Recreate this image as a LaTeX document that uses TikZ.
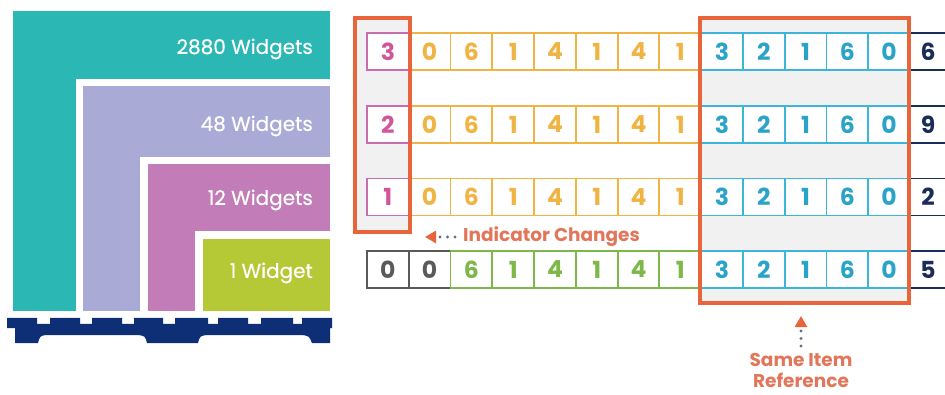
\documentclass[tikz,border=0pt]{standalone}
\usepackage{fontspec}
\setmainfont{Poppins}
\newfontfamily\medfont{Poppins}[FakeBold=0.5]
\usetikzlibrary{arrows.meta}
\definecolor{tealA}{HTML}{2BB7B3}
\definecolor{lavA}{HTML}{A9AAD6}
\definecolor{mauveA}{HTML}{C27DB8}
\definecolor{limeA}{HTML}{B5C836}
\definecolor{navyA}{HTML}{0E2F75}
\definecolor{orA}{HTML}{E8653B}
\definecolor{orT}{HTML}{E2765A}
\definecolor{pinkB}{HTML}{C76DB0}
\definecolor{pinkD}{HTML}{D2559A}
\definecolor{goldA}{HTML}{F0B444}
\definecolor{cyanB}{HTML}{3BB6D9}
\definecolor{cyanD}{HTML}{2AA3C9}
\definecolor{greenA}{HTML}{7DB848}
\definecolor{grayA}{HTML}{5A5A5A}
\definecolor{bgA}{HTML}{F1F1F1}
\definecolor{navyD}{HTML}{1A2C57}
\definecolor{dotG}{HTML}{6A6E80}
\begin{document}
\begin{tikzpicture}[x=1pt,y=-1pt,
  cell/.style={draw, line width=1.8pt, fill=white, inner sep=0pt, outer sep=0pt,
    minimum width=41.77pt, minimum height=37pt,
    font=\bfseries\fontsize{23.5}{23.5}\selectfont},
  lastd/.style={inner sep=0pt, font=\bfseries\fontsize{23.5}{23.5}\selectfont, text=navyD},
  navyline/.style={draw=navyD, line width=1.8pt},
  wlabel/.style={anchor=east, inner sep=0pt, text=white, font=\medfont\fontsize{20}{20}\selectfont},
  olabel/.style={inner sep=0pt, text=orT, font=\bfseries\fontsize{18.5}{21}\selectfont},
  obox/.style={draw=orA, line width=3.5pt},
  dotarrow/.style={draw=dotG, line width=3.2pt, dash pattern=on 0pt off 7.5pt, line cap=round,
    shorten >=3pt, -{Triangle[length=11pt,width=12pt,sharp,color=orA]}}
]
\useasboundingbox (0,0) rectangle (945,395);
% ---------- left: nested widget blocks ----------
\fill[tealA] (13,11) rectangle (330,311);
\fill[white] (76,79) rectangle (330,311);
\fill[lavA] (83,86) rectangle (330,311);
\fill[white] (140,157) rectangle (330,311);
\fill[mauveA] (148,164) rectangle (330,311);
\fill[white] (195,231) rectangle (330,311);
\fill[limeA] (203,239) rectangle (330,311);
\node[wlabel] (w2880) at (313,49) {2880 Widgets};
\node[wlabel] (w48) at (313,126) {48 Widgets};
\node[wlabel] (w12) at (313,200) {12 Widgets};
\node[wlabel] (w1) at (313,273) {1 Widget};
% pallet
\fill[navyA] (7,318) -- (37,318) -- (37,324) -- (50,324) -- (50,318) -- (80,318) -- (80,324) -- (92,324) -- (92,318)
  -- (122,318) -- (122,324) -- (134,324) -- (134,318) -- (163,318) -- (163,324) -- (175,324) -- (175,318)
  -- (208,318) -- (208,324) -- (218,324) -- (218,318) -- (248,318) -- (248,324) -- (261,324) -- (261,318)
  -- (293,318) -- (293,324) -- (302,324) -- (302,318) -- (332,318) -- (332,328) -- (330,328) -- (330,343)
  -- (312,343) .. controls (309,336) .. (302,335) -- (207,335) .. controls (200,336) .. (198,343)
  -- (147,343) .. controls (145,336) .. (138,335) -- (46,335) .. controls (40,336) .. (38,343)
  -- (15,343) -- (15,328) -- (7,328) -- cycle;
% ---------- right: code rows ----------
\fill[bgA] (355,18) rectangle (410,232);
\fill[bgA] (700,18) rectangle (909,303);
\coordinate (redge) at (945,0);
\foreach \r/\y/\a/\z in {1/51.5/3/6, 2/124.5/2/9, 3/197/1/2} {
  \node[cell, draw=pinkB, text=pinkD] (r\r c0) at ({367+0.5*41.77},\y) {\a};
  \foreach \d [count=\i] in {0,6,1,4,1,4,1}
    \node[cell, draw=goldA, text=goldA] (r\r c\i) at ({367+(\i+0.5)*41.77},\y) {\d};
  \foreach \d [count=\i from 8] in {3,2,1,6,0}
    \node[cell, draw=cyanB, text=cyanD] (r\r c\i) at ({367+(\i+0.5)*41.77},\y) {\d};
  \node[lastd] (r\r n) at (928,\y) {\z};
  \draw[navyline] (r\r c12.north east) -- (r\r c12.north east -| redge);
  \draw[navyline] (r\r c12.south east) -- (r\r c12.south east -| redge);
}
\foreach \d [count=\i from 0] in {0,0}
  \node[cell, draw=grayA, text=grayA] (r4c\i) at ({367+(\i+0.5)*41.77},269.5) {\d};
\foreach \d [count=\i from 2] in {6,1,4,1,4,1}
  \node[cell, draw=greenA, text=greenA] (r4c\i) at ({367+(\i+0.5)*41.77},269.5) {\d};
\foreach \d [count=\i from 8] in {3,2,1,6,0}
  \node[cell, draw=cyanB, text=cyanD] (r4c\i) at ({367+(\i+0.5)*41.77},269.5) {\d};
\node[lastd] (r4n) at (928,269.5) {5};
\draw[navyline] (r4c12.north east) -- (r4c12.north east -| redge);
\draw[navyline] (r4c12.south east) -- (r4c12.south east -| redge);
% orange frames
\node[obox, inner sep=0pt, minimum width=55pt, minimum height=214pt] (indbox) at (382.5,125) {};
\node[obox, inner sep=0pt, minimum width=209pt, minimum height=285pt] (refbox) at (804.5,160.5) {};
% labels with dotted arrows
\node[olabel, anchor=west] (ind) at (463,237) {Indicator Changes};
\coordinate (indtip) at (422,237);
\draw[dotarrow] ([xshift=-8pt]ind.west) -- (indtip);
\node[olabel, align=center, anchor=north] (same) at (801,353) {Same Item\\Reference};
\coordinate (sametip) at (801,313);
\draw[dotarrow] ([yshift=7pt]same.north) -- (sametip);
\end{tikzpicture}
\end{document}
